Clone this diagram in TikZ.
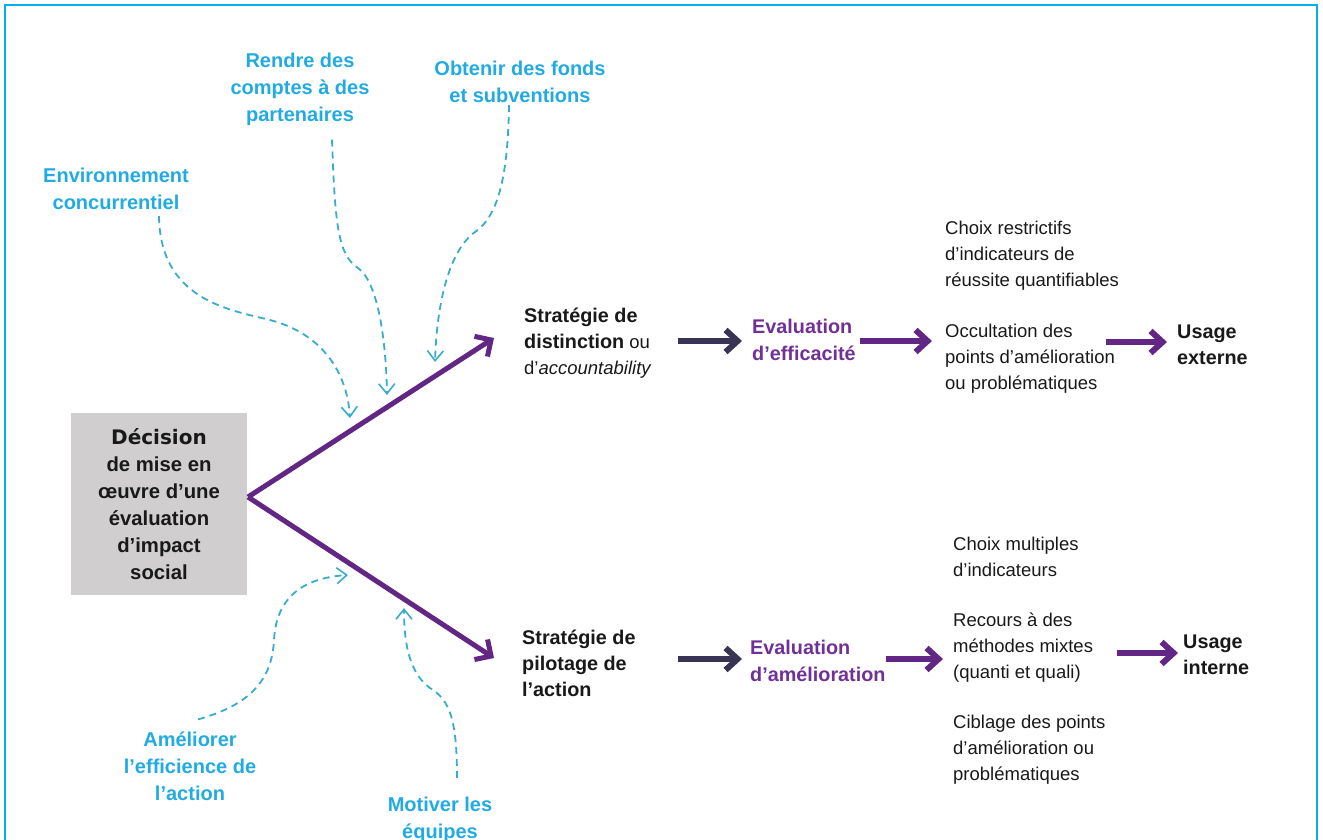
\documentclass[tikz,border=0pt]{standalone}
\usepackage{fontspec}
\setmainfont{Liberation Sans}
\newfontfamily\heavyfont{DejaVu Sans}
\usetikzlibrary{arrows.meta}
\definecolor{framecyan}{RGB}{0,176,240}
\definecolor{labelcyan}{RGB}{33,171,226}
\definecolor{dashcyan}{RGB}{56,172,206}
\definecolor{vpurple}{RGB}{98,38,132}
\definecolor{evalpurple}{RGB}{112,48,150}
\definecolor{darkarrow}{RGB}{58,52,84}
\definecolor{boxgray}{RGB}{208,206,206}
\definecolor{txtblack}{RGB}{25,25,25}
\tikzset{
  txt/.style={inner sep=0pt, align=left, anchor=west, text=txtblack,
    font=\fontsize{18.5}{26}\selectfont},
  boldtxt/.style={txt, font=\bfseries\fontsize{19.8}{26}\selectfont},
  cyanlabel/.style={inner sep=0pt, align=center, text=labelcyan,
    font=\bfseries\fontsize{20}{27}\selectfont},
  evaltxt/.style={txt, text=evalpurple, font=\bfseries\fontsize{19.8}{26.5}\selectfont},
  decbox/.style={fill=boxgray, minimum width=176pt, minimum height=182pt, inner sep=0pt,
    align=center, text=txtblack, font=\bfseries\fontsize{20.3}{27}\selectfont},
  framestyle/.style={draw=framecyan, line width=2.5pt},
  bigarrow/.style={draw=vpurple, line width=5pt, -{Straight Barb[length=12pt,width=24pt]}},
  flowarrow/.style={draw=vpurple, line width=6pt, -{Straight Barb[length=12pt,width=22pt]}},
  darkflow/.style={draw=darkarrow, line width=6pt, -{Straight Barb[length=12pt,width=22pt]}},
  dasharr/.style={draw=dashcyan, line width=1.8pt, dash pattern=on 7pt off 5pt,
    -{Straight Barb[length=10pt,width=16pt,line width=1.6pt]}}
}
\begin{document}
\begin{tikzpicture}[x=1pt,y=-1pt]
\useasboundingbox (0,0) rectangle (1323,839);
\begin{scope}
\clip (0,0) rectangle (1323,839);
\draw[framestyle] (5,860) -- (5,5) -- (1317,5) -- (1317,860);

% decision box
\node[decbox] (dec) at (159,504) {{\heavyfont\bfseries\fontsize{20}{27}\selectfont Décision}\\de mise en\\œuvre d’une\\évaluation\\d’impact\\social};
\coordinate (v) at (248,497);
\coordinate (tipA) at (494,338);
\coordinate (tipB) at (494,658);
\draw[bigarrow] (v) -- (tipA);
\draw[bigarrow] (v) -- (tipB);

% cyan labels
\node[cyanlabel] (rendre) at (300,89) {Rendre des\\comptes à des\\partenaires};
\node[cyanlabel] (obtenir) at (520,82) {Obtenir des fonds\\et subventions};
\node[cyanlabel] (env) at (116,189) {Environnement\\concurrentiel};
\node[cyanlabel] (amel) at (190,766) {Améliorer\\l’efficience de\\l’action};
\node[cyanlabel] (motiv) at (440,820) {Motiver les\\équipes};

\coordinate (tEnv) at (350,418);
\coordinate (tRen) at (387,395);
\coordinate (tObt) at (435,362);
\coordinate (tAme) at (348,575);
\coordinate (tMot) at (404,608);

\draw[dasharr] ([xshift=43pt,yshift=-6pt]env.south) .. controls (160,300) and (230,310) .. (270,320) .. controls (320,333) and (347,370) .. (tEnv);
\draw[dasharr] ([xshift=32pt,yshift=-14pt]rendre.south) .. controls (335,225) and (338,255) .. (358,268) .. controls (378,282) and (386,340) .. (tRen);
\draw[dasharr] ([xshift=-11pt,yshift=-2pt]obtenir.south) .. controls (508,170) and (500,215) .. (475,232) .. controls (450,250) and (437,300) .. (tObt);
\draw[dasharr] ([xshift=8pt,yshift=12pt]amel.north) .. controls (250,705) and (272,680) .. (274,640) .. controls (276,600) and (300,578) .. (tAme);
\draw[dasharr] ([xshift=17pt,yshift=19pt]motiv.north) .. controls (457,720) and (450,700) .. (430,688) .. controls (412,675) and (404,650) .. (tMot);

% upper chain
\node[txt] (stratA) at (524,343) {{\bfseries\fontsize{19.8}{26}\selectfont Stratégie de}\\{\bfseries\fontsize{19.8}{26}\selectfont distinction} ou\\d’\textit{accountability}};
\node[evaltxt] (evalA) at (752,340) {Evaluation\\d’efficacité};
\node[txt] (choixA) at (945,256) {Choix restrictifs\\d’indicateurs de\\réussite quantifiables};
\node[txt] (occA) at (945,359) {Occultation des\\points d’amélioration\\ou problématiques};
\node[boldtxt] (usageA) at (1177,345) {Usage\\externe};

\draw[darkflow] ([xshift=-74pt]evalA.west |- 0,341) -- ([xshift=-10pt]evalA.west |- 0,341);
\draw[flowarrow] ([xshift=4pt]evalA.east |- 0,341) -- ([xshift=-13pt]occA.west |- 0,341);
\draw[flowarrow] ([xshift=-9pt]occA.east |- 0,342) -- ([xshift=-10pt]usageA.west |- 0,342);

% lower chain
\node[boldtxt] (stratB) at (522,663) {Stratégie de\\pilotage de\\l’action};
\node[evaltxt] (evalB) at (750,661) {Evaluation\\d’amélioration};
\node[txt] (choixB) at (953,557) {Choix multiples\\d’indicateurs};
\node[txt] (recB) at (953,648) {Recours à des\\méthodes mixtes\\(quanti et quali)};
\node[txt] (cibB) at (953,750) {Ciblage des points\\d’amélioration ou\\problématiques};
\node[boldtxt] (usageB) at (1183,655) {Usage\\interne};

\draw[darkflow] ([xshift=-72pt]evalB.west |- 0,659) -- ([xshift=-8pt]evalB.west |- 0,659);
\draw[flowarrow] ([xshift=0pt]evalB.east |- 0,659) -- ([xshift=-10pt]recB.west |- 0,659);
\draw[flowarrow] ([xshift=24pt]recB.east |- 0,653) -- ([xshift=-5pt]usageB.west |- 0,653);
\end{scope}
\end{tikzpicture}
\end{document}
